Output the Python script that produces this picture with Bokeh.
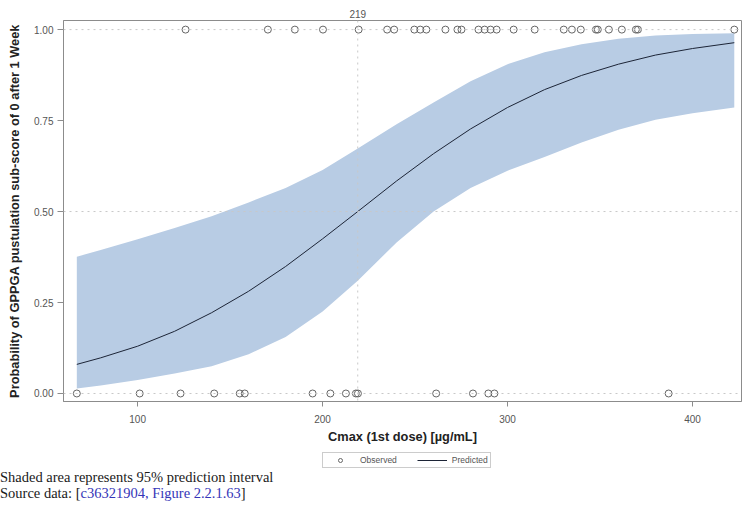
from bokeh.plotting import figure
from bokeh.layouts import column
from bokeh.models import (Range1d, FixedTicker, PrintfTickFormatter, Span, Div,
                          Legend, LegendItem, ColumnDataSource, LinearAxis)
from bokeh.embed import file_html
from bokeh.resources import INLINE

# ---------------- data ----------------
obs_x_1 = [125.9, 170.4, 185.0, 200.2, 219.5, 234.9, 238.7, 249.6, 252.8, 256.1,
           266.4, 272.9, 275.1, 284.3, 287.6, 290.8, 294.1, 303.3, 314.7, 330.4,
           334.8, 339.6, 347.8, 348.8, 354.8, 361.8, 369.4, 370.5, 422.6]
obs_x_0 = [67.1, 101.1, 123.2, 141.4, 155.2, 157.9, 194.6, 204.2, 212.6, 218.0,
           219.1, 261.4, 281.3, 289.6, 292.9, 387.1]

curve_x = [67.1, 80, 100, 120, 140, 160, 180, 200, 219, 240, 260, 280, 300,
           320, 340, 360, 380, 400, 422.6]
pred = [0.080, 0.098, 0.130, 0.171, 0.222, 0.281, 0.349, 0.425, 0.500, 0.584,
        0.659, 0.727, 0.786, 0.835, 0.874, 0.905, 0.930, 0.948, 0.964]
lower = [0.014, 0.022, 0.037, 0.055, 0.075, 0.108, 0.155, 0.225, 0.310, 0.415,
         0.500, 0.565, 0.612, 0.650, 0.690, 0.725, 0.752, 0.770, 0.786]
upper = [0.376, 0.394, 0.424, 0.455, 0.487, 0.525, 0.565, 0.614, 0.673, 0.740,
         0.800, 0.858, 0.905, 0.938, 0.960, 0.975, 0.984, 0.988, 0.990]

x_ticks = [100, 200, 300, 400]
y_ticks = [0.0, 0.25, 0.5, 0.75, 1.0]
ref_x = 219
ref_y = [0.0, 0.5, 1.0]

x_label = "Cmax (1st dose) [µg/mL]"
y_label = "Probability of GPPGA pustulation sub-score of 0 after 1 Week"
legend_labels = ["Observed", "Predicted"]
note_1 = "Shaded area represents 95% prediction interval"
note_2a = "Source data: ["
note_2b = "c36321904, Figure 2.2.1.63"
note_2c = "]"

# ---------------- main figure ----------------
X0, X1 = 59.9, 426.5
Y0, Y1 = -0.022, 1.025
FONT = "Liberation Sans"
GREY = "#8c8c8c"
BAND = "#b8cce4"
CURVE = "#1c2436"
MARK = "#666666"
H1 = 452

p = figure(width=743, height=H1, output_backend="svg", toolbar_location=None,
           x_range=Range1d(X0, X1), y_range=Range1d(Y0, Y1),
           min_border_left=63, min_border_right=2, min_border_top=20,
           min_border_bottom=H1 - 401)
p.xgrid.visible = False
p.ygrid.visible = False
p.outline_line_color = GREY
p.border_fill_color = "white"

band_src = ColumnDataSource(dict(x=curve_x, lo=lower, hi=upper))
p.varea(x="x", y1="lo", y2="hi", source=band_src, fill_color=BAND)

for yv in ref_y:
    p.add_layout(Span(location=yv, dimension="width", line_color="#c8c8c8",
                      line_dash="dotted", line_width=1))
p.add_layout(Span(location=ref_x, dimension="height", line_color="#c8c8c8",
                  line_dash="dotted", line_width=1))

p.line(curve_x, pred, line_color=CURVE, line_width=1)
p.scatter(obs_x_1 + obs_x_0, [1.0] * len(obs_x_1) + [0.0] * len(obs_x_0),
          marker="circle", size=7, fill_color=None, line_color=MARK, line_width=1)

for ax in (p.xaxis[0], p.yaxis[0]):
    ax.axis_line_color = GREY
    ax.major_tick_line_color = GREY
    ax.minor_tick_line_color = None
    ax.major_tick_in = 0
    ax.major_label_text_font = FONT
    ax.major_label_text_font_size = "10px"
    ax.major_label_text_color = "#555555"
    ax.axis_label_text_font = FONT
    ax.axis_label_text_font_size = "12.8px"
    ax.axis_label_text_font_style = "bold"
    ax.axis_label_text_color = "#222222"

p.xaxis[0].ticker = FixedTicker(ticks=x_ticks)
p.xaxis[0].major_tick_out = 5
p.xaxis[0].major_label_standoff = 8
p.xaxis[0].axis_label = x_label
p.xaxis[0].axis_label_standoff = 3

p.yaxis[0].ticker = FixedTicker(ticks=y_ticks)
p.yaxis[0].formatter = PrintfTickFormatter(format="%.2f")
p.yaxis[0].major_tick_out = 6
p.yaxis[0].major_label_standoff = 4
p.yaxis[0].axis_label = y_label
p.yaxis[0].axis_label_standoff = 9

# label of the vertical reference line, above the frame
top_ax = LinearAxis(ticker=FixedTicker(ticks=[ref_x]), axis_line_color=None,
                    major_tick_line_color=None, minor_tick_line_color=None,
                    major_tick_out=0, major_tick_in=0,
                    major_label_standoff=3, major_label_text_font=FONT,
                    major_label_text_font_size="10px",
                    major_label_text_color="#555555")
p.add_layout(top_ax, "above")

# ---------------- legend strip ----------------
H2 = 470 - H1
p2 = figure(width=743, height=H2, output_backend="svg", toolbar_location=None,
            x_range=Range1d(0, 10), y_range=Range1d(0, 10),
            x_axis_type=None, y_axis_type=None, min_border=0)
p2.xgrid.visible = False
p2.ygrid.visible = False
p2.outline_line_color = None
# legend glyph holders, placed outside the visible range
lg_obs = p2.scatter([-100], [-100], marker="circle", size=7, fill_color=None,
                    line_color=MARK, line_width=1)
lg_line = p2.line([-100, -90], [-100, -100], line_color=CURVE, line_width=1)
legend = Legend(items=[LegendItem(label=legend_labels[0], renderers=[lg_obs]),
                       LegendItem(label=legend_labels[1], renderers=[lg_line])],
                orientation="horizontal", location=(259, 2),
                border_line_color="#9a9a9a", border_line_width=1,
                padding=2, spacing=20, margin=0,
                glyph_width=30, glyph_height=10, label_standoff=5,
                label_text_font=FONT, label_text_font_size="8.5px",
                label_text_color="#555555", label_height=10)
p2.add_layout(legend, "center")

# ---------------- footnotes ----------------
html = ("<div style=\"font-family:'Liberation Serif';font-size:14.5px;color:#1a1a1a;"
        "white-space:nowrap;margin:0;padding:0;\">"
        f"<div style='line-height:14px'>{note_1}</div>"
        f"<div style='line-height:19px'>{note_2a}<span style='color:#3535b8'>"
        f"{note_2b}</span>{note_2c}</div></div>")
notes = Div(text=html, width=743, height=505 - 470, margin=(0, 0, 0, 0))

layout = column(p, p2, notes, spacing=0)
open("out.html", "w").write(file_html(layout, INLINE))
